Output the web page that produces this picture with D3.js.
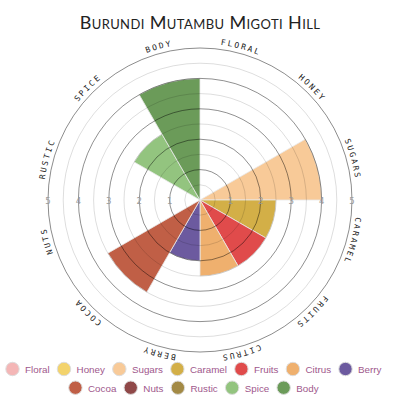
<!DOCTYPE html>
<html><head><meta charset="utf-8">
<script src="https://cdn.jsdelivr.net/npm/d3@7"></script>
<style>html,body{margin:0;padding:0;background:#fff}</style>
</head><body><svg id="c" width="400" height="400"></svg>
<script>
const title = "Burundi Mutambu Migoti Hill";
const categories = ["Floral","Honey","Sugars","Caramel","Fruits","Citrus","Berry","Cocoa","Nuts","Rustic","Spice","Body"];
const values = [0, 0, 4, 2.5, 2.5, 2.5, 2, 3.5, 0, 0, 2.5, 4];
const colors = ["#f4b6b6","#f3d36c","#f8ca98","#d3af47","#e04b4b","#efb06e","#6c5a9f","#c05f46","#8f4848","#a38a45","#93c47f","#6b9b59"];
const ringTicks = [0.5,1,1.5,2,2.5,3,3.5,4,4.5,5];
const tickLabels = [1,2,3,4,5];

const svg = d3.select("#c");
const cx = 200, cy = 200;
const r = d3.scaleLinear().domain([0,5]).range([0,152]);
const step = 2*Math.PI/categories.length;
const data = categories.map((c,i)=>({name:c, value:values[i], color:colors[i], a0:i*step, a1:(i+1)*step}));

// title
svg.append("text").attr("x",200).attr("y",28.5).attr("text-anchor","middle")
  .attr("font-family","Lato, 'Open Sans', sans-serif").attr("font-size",18)
  .attr("font-variant","small-caps").attr("fill","#222").attr("letter-spacing",0.4)
  .text(title);

const g = svg.append("g").attr("transform",`translate(${cx},${cy})`);

const arc = d3.arc().innerRadius(0).outerRadius(d=>r(d.value)).startAngle(d=>d.a0).endAngle(d=>d.a1);
g.selectAll("path.sector").data(data.filter(d=>d.value>0)).join("path")
  .attr("class","sector").attr("d",arc).attr("fill",d=>d.color)
  .attr("stroke","#e8e8e8").attr("stroke-width",0.8);

// grid rings
g.selectAll("circle.ring").data(ringTicks).join("circle")
  .attr("class","ring").attr("r",d=>r(d)).attr("fill","none")
  .attr("stroke","#000")
  .attr("stroke-opacity",d=>d===5?0.45:(d%1===0?0.55:0.17))
  .attr("stroke-width",d=>d===5?1:0.8);

// tick labels both sides
[-1,1].forEach(s=>{
  g.selectAll(null).data(tickLabels).join("text")
    .attr("x",d=>s*r(d)).attr("y",1).attr("text-anchor","middle")
    .attr("dominant-baseline","central")
    .attr("font-family","'DejaVu Sans', sans-serif").attr("font-size",8.5)
    .attr("fill","#9a9a9a").text(d=>d);
});

// category labels on arcs
const LR = 156.5;
const defs = svg.append("defs");
data.forEach((d,i)=>{
  const p = d3.path();
  p.arc(0,0,LR,d.a0-Math.PI/2,d.a1-Math.PI/2,false);
  defs.append("path").attr("id","lp"+i).attr("d",p.toString());
});
g.selectAll("text.cat").data(data).join("text").attr("class","cat")
  .attr("font-family","'DejaVu Sans Mono', monospace").attr("font-size",8)
  .attr("letter-spacing",2).attr("fill","#222")
  .append("textPath").attr("href",(d,i)=>"#lp"+i).attr("startOffset","50%")
  .attr("text-anchor","middle").text(d=>d.name.toUpperCase());

// legend
const lg = svg.append("g");
const fs = 9.8;
const items = lg.selectAll("g.item").data(data).join("g").attr("class","item");
items.append("circle").attr("r",6.7).attr("fill",d=>d.color).attr("stroke","#ddd").attr("stroke-width",1);
items.append("text").attr("x",12.6).attr("y",0.3).attr("dominant-baseline","central")
  .attr("font-family","'Liberation Sans', Arial, sans-serif").attr("font-size",fs)
  .attr("fill","#a0588c").text(d=>d.name);
const widths = [];
items.each(function(){ widths.push(27 + d3.select(this).select("text").node().getComputedTextLength()); });
const maxW = 394, rows = [[]]; let cur = 0;
widths.forEach((w,i)=>{ if(cur + w > maxW && rows[rows.length-1].length){ rows.push([]); cur = 0; } rows[rows.length-1].push(i); cur += w; });
const rowY = [369, 387.7];
const itemNodes = items.nodes();
rows.forEach((row,ri)=>{
  const W = d3.sum(row, i=>widths[i]);
  let x = 197.5 - W/2 + 6.7;
  row.forEach(i=>{ d3.select(itemNodes[i]).attr("transform",`translate(${x},${rowY[ri]})`); x += widths[i]; });
});
</script></body></html>
